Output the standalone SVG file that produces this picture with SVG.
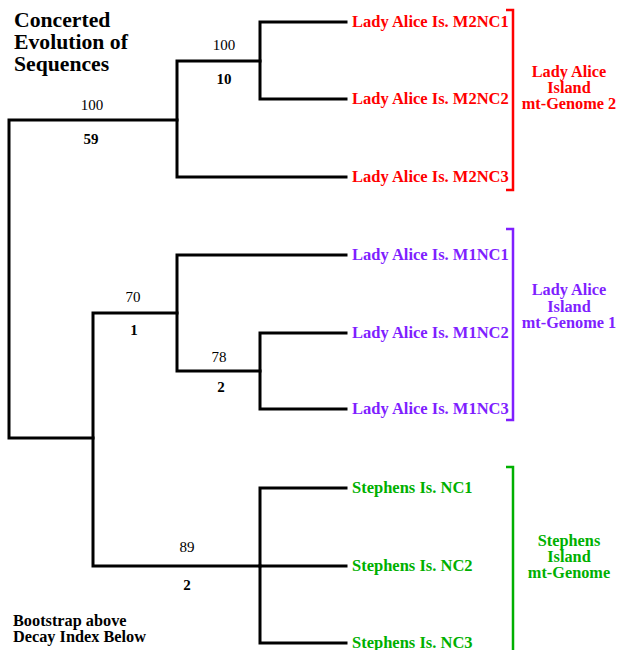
<svg xmlns="http://www.w3.org/2000/svg" width="617" height="650" viewBox="0 0 617 650">
<style>
text{font-family:"Liberation Serif","Times New Roman",serif;}
.t{font-size:21.7px;font-weight:bold;fill:#000;}
.bs{font-size:15px;fill:#000;text-anchor:middle;}
.di{font-size:15px;font-weight:bold;fill:#000;text-anchor:middle;}
.lf{font-size:16.5px;font-weight:bold;}
.grp{font-size:16.3px;font-weight:bold;text-anchor:middle;}
.leg{font-size:16.3px;font-weight:bold;fill:#000;}
.tree{fill:none;stroke:#000;stroke-width:3;stroke-linecap:square;stroke-linejoin:miter;}
.br{fill:none;stroke-width:2.5;}
.red{fill:#ff0000;}
.pur{fill:#7f1fff;}
.grn{fill:#00b000;}
</style>
<rect width="617" height="650" fill="#fff"/>
<g id="title">
<text class="t" x="14" y="27">Concerted</text>
<text class="t" x="14" y="49">Evolution of</text>
<text class="t" x="14" y="71">Sequences</text>
</g>
<g id="connectors">
<path class="tree" d="M177,120 H9 V438 H93"/>
<path class="tree" d="M260,61 H177 V177 H346"/>
<path class="tree" d="M346,22 H260 V99 H346"/>
<path class="tree" d="M177,313 H93 V566 H260"/>
<path class="tree" d="M346,255 H177 V371 H260"/>
<path class="tree" d="M346,333 H260 V409 H346"/>
<path class="tree" d="M346,488 H260 V643 H346"/>
<path class="tree" d="M260,566 H346"/>
</g>
<g id="node-root-label"><text class="bs" x="92" y="110">100</text><text class="di" x="91" y="144">59</text></g>
<g id="node-m2-label"><text class="bs" x="224" y="50">100</text><text class="di" x="224" y="84">10</text></g>
<g id="node-c-label"><text class="bs" x="133" y="302">70</text><text class="di" x="134" y="335">1</text></g>
<g id="node-e-label"><text class="bs" x="219" y="362">78</text><text class="di" x="221" y="392">2</text></g>
<g id="node-f-label"><text class="bs" x="187" y="552">89</text><text class="di" x="187" y="590">2</text></g>
<g id="leaf-M2NC1"><text class="lf red" x="352" y="27">Lady Alice Is. M2NC1</text></g>
<g id="leaf-M2NC2"><text class="lf red" x="352" y="104">Lady Alice Is. M2NC2</text></g>
<g id="leaf-M2NC3"><text class="lf red" x="352" y="182">Lady Alice Is. M2NC3</text></g>
<g id="leaf-M1NC1"><text class="lf pur" x="352" y="260">Lady Alice Is. M1NC1</text></g>
<g id="leaf-M1NC2"><text class="lf pur" x="352" y="338">Lady Alice Is. M1NC2</text></g>
<g id="leaf-M1NC3"><text class="lf pur" x="352" y="414">Lady Alice Is. M1NC3</text></g>
<g id="leaf-SNC1"><text class="lf grn" x="352" y="493">Stephens Is. NC1</text></g>
<g id="leaf-SNC2"><text class="lf grn" x="352" y="571">Stephens Is. NC2</text></g>
<g id="leaf-SNC3"><text class="lf grn" x="352" y="648">Stephens Is. NC3</text></g>
<g id="group-mt2">
<path class="br" stroke="#ff0000" d="M506,10 H513 V190 H506"/>
<text class="grp red" x="569" y="77">Lady Alice</text>
<text class="grp red" x="569" y="93">Island</text>
<text class="grp red" x="569" y="109">mt-Genome 2</text>
</g>
<g id="group-mt1">
<path class="br" stroke="#7f1fff" d="M506,229 H513 V420 H506"/>
<text class="grp pur" x="569" y="295">Lady Alice</text>
<text class="grp pur" x="569" y="311.5">Island</text>
<text class="grp pur" x="569" y="327.5">mt-Genome 1</text>
</g>
<g id="group-stephens">
<path class="br" stroke="#00b000" d="M506,467 H513 V652"/>
<text class="grp grn" x="569" y="546">Stephens</text>
<text class="grp grn" x="569" y="562">Island</text>
<text class="grp grn" x="569" y="578">mt-Genome</text>
</g>
<g id="legend">
<text class="leg" x="13" y="626">Bootstrap above</text>
<text class="leg" x="13" y="642">Decay Index Below</text>
</g>
</svg>
